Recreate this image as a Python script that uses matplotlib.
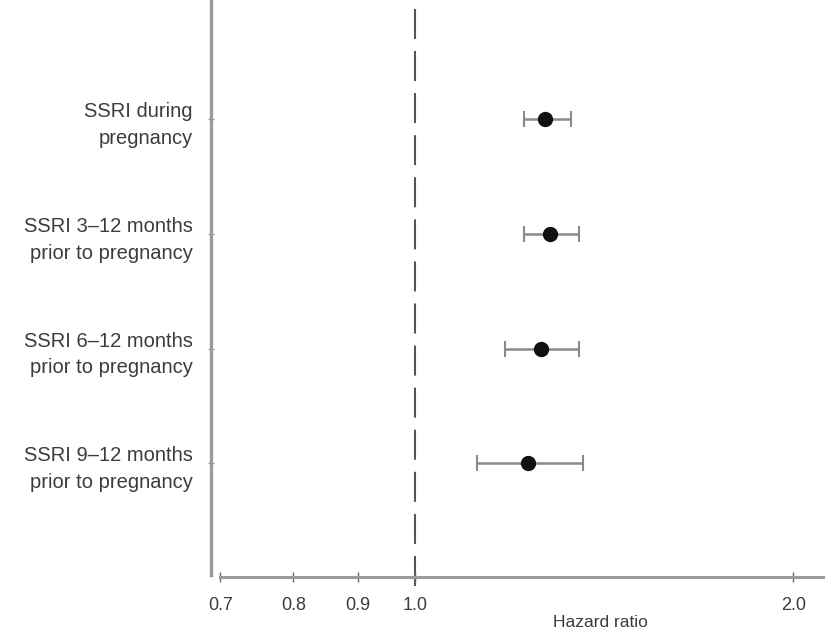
import matplotlib
matplotlib.use('Agg')
import matplotlib.pyplot as plt
from matplotlib.ticker import FixedLocator, NullLocator

plt.rcParams['font.family'] = ['Liberation Sans', 'DejaVu Sans']

# Forest plot data
labels = ['SSRI during\npregnancy',
          'SSRI 3\u201312 months\nprior to pregnancy',
          'SSRI 6\u201312 months\nprior to pregnancy',
          'SSRI 9\u201312 months\nprior to pregnancy']
hr = [1.27, 1.28, 1.26, 1.23]
ci_low = [1.22, 1.22, 1.18, 1.12]
ci_high = [1.33, 1.35, 1.35, 1.36]
xticks = [0.7, 0.8, 0.9, 1.0, 2.0]
xtick_labels = ['0.7', '0.8', '0.9', '1.0', '2.0']

spine_col = '#9a9a9a'
text_col = '#3c3c3c'

fig = plt.figure(figsize=(8.25, 6.35), dpi=100)
ax = fig.add_axes([0.2558, 0.0913, 0.7442, 0.9087])

rows = list(range(1, len(labels) + 1))
err = [[h - lo for h, lo in zip(hr, ci_low)],
       [hi - h for h, hi in zip(hr, ci_high)]]

ax.axvline(1.0, ymin=-0.015, ymax=1.0, color='#555555', lw=1.5,
           dashes=(14.4, 5.8), clip_on=False, zorder=1)
ax.errorbar(hr, rows, xerr=err, fmt='o', color='#111111', ecolor='#8a8a8a',
            elinewidth=1.8, capsize=5.5, capthick=1.5, markersize=10, zorder=3)

ax.set_xscale('log')
ax.set_xlim(0.688, 2.12)
ax.set_ylim(4.99, -0.04)

ax.xaxis.set_major_locator(FixedLocator(xticks))
ax.xaxis.set_minor_locator(NullLocator())
ax.set_xticklabels(xtick_labels)
ax.set_yticks(rows)
ax.set_yticklabels(labels, ha='right', linespacing=1.5)

for side in ['top', 'right']:
    ax.spines[side].set_visible(False)
ax.spines['left'].set_color(spine_col)
ax.spines['left'].set_linewidth(2.4)
ax.spines['left'].set_bounds(4.97, -0.04)
ax.spines['bottom'].set_color(spine_col)
ax.spines['bottom'].set_linewidth(2.2)
ax.spines['bottom'].set_bounds(0.7, 2.12)

ax.tick_params(axis='x', direction='inout', length=7, width=1, color='#666666',
               labelsize=13, labelcolor=text_col, pad=11)
ax.tick_params(axis='y', direction='inout', length=4, width=1, color='#999999',
               labelsize=14.5, labelcolor=text_col, pad=11)

ax.set_xlabel('Hazard ratio', fontsize=12.5, color=text_col)
ax.xaxis.set_label_coords(0.634, -0.065)

fig.savefig('out.png', dpi=100)
